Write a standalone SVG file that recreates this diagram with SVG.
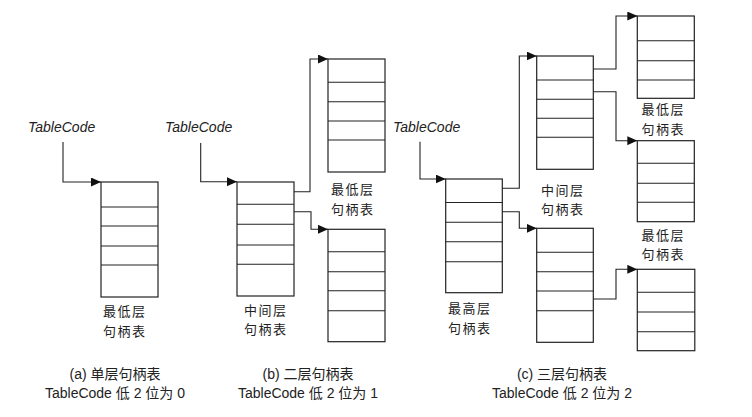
<svg xmlns="http://www.w3.org/2000/svg" width="752" height="417" viewBox="0 0 752 417">
<style>
.bx{fill:none;stroke:#222;stroke-width:1.2}
.rw{stroke:#222;stroke-width:1.1}
.cn{fill:none;stroke:#222;stroke-width:1.1}
.tc{font-family:"Liberation Sans","Noto Sans CJK SC",sans-serif;font-style:italic;font-size:14px;fill:#222}
.lb{font-family:"Noto Sans CJK SC",sans-serif;font-size:13px;fill:#222;letter-spacing:1.5px}
.cp{font-family:"Liberation Sans","Noto Sans CJK SC",sans-serif;font-size:14px;fill:#222;text-anchor:middle}
</style>
<defs>
<marker id="ah" markerUnits="userSpaceOnUse" markerWidth="10" markerHeight="9" refX="10" refY="4.5" orient="auto">
<path d="M0,0 L10,4.5 L0,9 z" fill="#111"/>
</marker>
</defs>
<rect width="752" height="417" fill="#fff"/>

<g id="tc-a"><text class="tc" x="28" y="132">TableCode</text></g>
<g id="tc-b"><text class="tc" x="165" y="132">TableCode</text></g>
<g id="tc-c"><text class="tc" x="393" y="132">TableCode</text></g>

<g id="box-a">
<rect class="bx" x="101" y="182" width="57" height="115"/>
<path class="rw" d="M101,207H158M101,226H158M101,246H158M101,265H158"/>
<text class="lb" x="103" y="316">最低层</text>
<text class="lb" x="103" y="335.5">句柄表</text>
</g>

<g id="box-b-mid">
<rect class="bx" x="237" y="182" width="57" height="114"/>
<path class="rw" d="M237,204.3H294M237,224.3H294M237,245H294M237,264.3H294"/>
<text class="lb" x="244" y="314.5">中间层</text>
<text class="lb" x="244" y="334">句柄表</text>
</g>

<g id="box-b-low1">
<rect class="bx" x="328" y="59" width="57" height="113"/>
<path class="rw" d="M328,82.3H385M328,101.7H385M328,121H385M328,140H385"/>
<text class="lb" x="331" y="194">最低层</text>
<text class="lb" x="331" y="213.5">句柄表</text>
</g>

<g id="box-b-low2">
<rect class="bx" x="328" y="229.3" width="57" height="112.4"/>
<path class="rw" d="M328,251.7H385M328,271.7H385M328,290.7H385M328,310.7H385"/>
</g>

<g id="box-c-top">
<rect class="bx" x="445.7" y="179" width="56.6" height="113.7"/>
<path class="rw" d="M445.7,202.5H502.3M445.7,222.3H502.3M445.7,241.7H502.3M445.7,261.7H502.3"/>
<text class="lb" x="448" y="313">最高层</text>
<text class="lb" x="448" y="332.5">句柄表</text>
</g>

<g id="box-c-mid1">
<rect class="bx" x="536.7" y="56" width="56.6" height="113.3"/>
<path class="rw" d="M536.7,80H593.3M536.7,99.3H593.3M536.7,118.3H593.3M536.7,137.3H593.3"/>
<text class="lb" x="541" y="194.5">中间层</text>
<text class="lb" x="541" y="214">句柄表</text>
</g>

<g id="box-c-mid2">
<rect class="bx" x="536.7" y="228.3" width="56.6" height="114"/>
<path class="rw" d="M536.7,252.3H593.3M536.7,271.7H593.3M536.7,291H593.3M536.7,310.7H593.3"/>
</g>

<g id="box-c-low1">
<rect class="bx" x="637.3" y="16" width="57" height="82.3"/>
<path class="rw" d="M637.3,40.7H694.3M637.3,60.7H694.3M637.3,80H694.3"/>
<text class="lb" x="641.5" y="114">最低层</text>
<text class="lb" x="641.5" y="133.5">句柄表</text>
</g>

<g id="box-c-low2">
<rect class="bx" x="637.3" y="140.7" width="57" height="81"/>
<path class="rw" d="M637.3,163.3H694.3M637.3,183.3H694.3M637.3,202.3H694.3"/>
<text class="lb" x="641.5" y="239.5">最低层</text>
<text class="lb" x="641.5" y="259">句柄表</text>
</g>

<g id="box-c-low3">
<rect class="bx" x="637.3" y="269.3" width="57.5" height="81.4"/>
<path class="rw" d="M637.3,292.3H694.8M637.3,312H694.8M637.3,331.7H694.8"/>
</g>

<g id="connectors">
<path class="cn" marker-end="url(#ah)" d="M63,142V182H101"/>
<path class="cn" marker-end="url(#ah)" d="M200.7,143V181.7H237"/>
<path class="cn" marker-end="url(#ah)" d="M294,191.7H310V59H328"/>
<path class="cn" marker-end="url(#ah)" d="M294,211.7H311V229.3H328"/>
<path class="cn" marker-end="url(#ah)" d="M420,141.7V179H445.7"/>
<path class="cn" marker-end="url(#ah)" d="M502.3,188.3H519.3V56H536.7"/>
<path class="cn" marker-end="url(#ah)" d="M502.3,211.7H519.3V228.3H536.7"/>
<path class="cn" marker-end="url(#ah)" d="M593.3,69H616V16H637.3"/>
<path class="cn" marker-end="url(#ah)" d="M593.3,91.7H616V140.7H637.3"/>
<path class="cn" marker-end="url(#ah)" d="M593.3,299H616V269.3H637.3"/>
</g>

<g id="captions">
<text class="cp" x="115" y="379">(a) 单层句柄表</text>
<text class="cp" x="115" y="398">TableCode 低 2 位为 0</text>
<text class="cp" x="308" y="379">(b) 二层句柄表</text>
<text class="cp" x="308" y="398">TableCode 低 2 位为 1</text>
<text class="cp" x="562" y="379">(c) 三层句柄表</text>
<text class="cp" x="562" y="398">TableCode 低 2 位为 2</text>
</g>
</svg>
